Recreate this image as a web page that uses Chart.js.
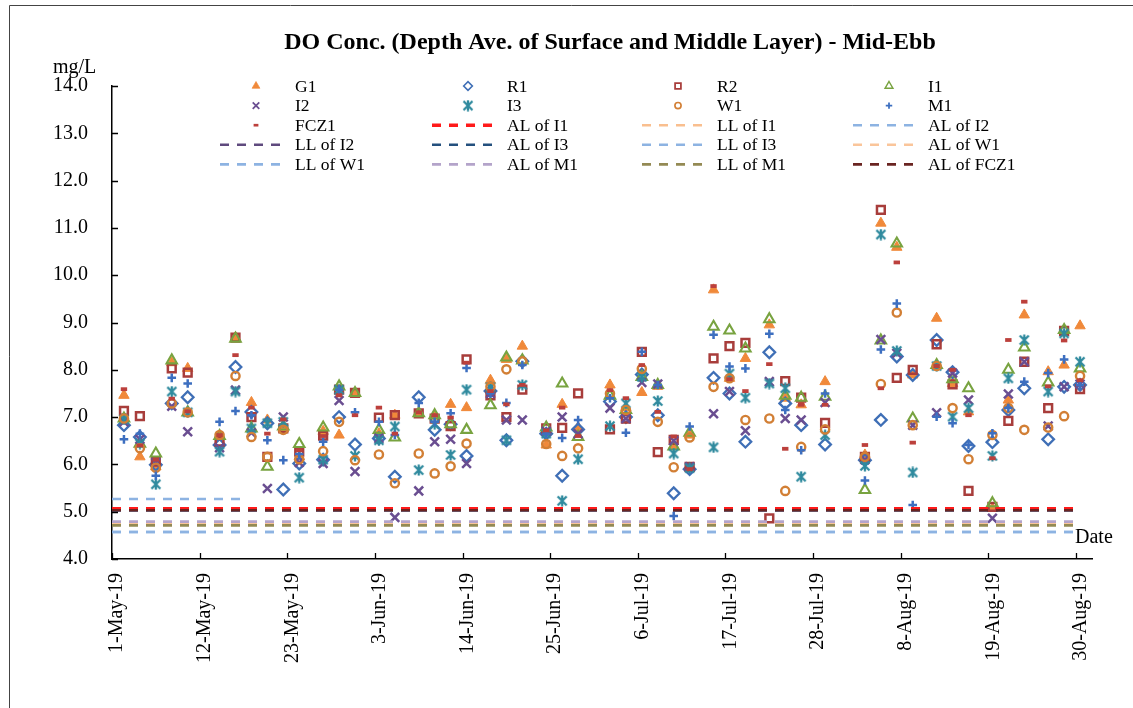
<!DOCTYPE html>
<html>
<head>
<meta charset="utf-8">
<title>DO Conc. - Mid-Ebb</title>
<script src="https://cdn.jsdelivr.net/npm/chart.js@4.4.1/dist/chart.umd.min.js"></script>
<style>
  html, body { margin: 0; padding: 0; background: #fff; }
  #wrap { width: 1133px; height: 708px; }
</style>
</head>
<body>
<div id="wrap"><canvas id="doChart" width="1133" height="708"></canvas></div>
<script>
// sampling dates (ebb tide, around midday)
var sampleDates = ['2019-05-02','2019-05-04','2019-05-06','2019-05-08','2019-05-10','2019-05-14','2019-05-16','2019-05-18','2019-05-20','2019-05-22','2019-05-24','2019-05-27','2019-05-29','2019-05-31',
  '2019-06-03','2019-06-05','2019-06-08','2019-06-10','2019-06-12','2019-06-14','2019-06-17','2019-06-19','2019-06-21','2019-06-24','2019-06-26','2019-06-28',
  '2019-07-02','2019-07-04','2019-07-06','2019-07-08','2019-07-10','2019-07-12','2019-07-15','2019-07-17','2019-07-19','2019-07-22','2019-07-24','2019-07-26','2019-07-29',
  '2019-08-03','2019-08-05','2019-08-07','2019-08-09','2019-08-12','2019-08-14','2019-08-16','2019-08-19','2019-08-21','2019-08-23','2019-08-26','2019-08-28','2019-08-30'];

// DO (mg/L) per station
var g1 = [7.46,6.16,5.95,8.15,8.03,6.60,8.68,7.31,6.94,6.76,6.16,6.70,6.62,7.50, 6.65,7.04,7.08,7.02,7.27,7.20,7.78,8.22,8.50,6.41,7.27,6.78, 7.68,7.20,7.52,7.65,6.40,6.62,9.69,7.82,8.24,8.95,7.40,7.26,7.75, 6.20,11.10,10.59,7.89,9.09,7.71,7.11,5.07,7.36,9.16,7.96,8.10,8.93];
var r1 = [6.83,6.58,5.99,7.29,7.42,6.41,8.06,7.11,6.87,5.47,6.02,6.10,7.00,6.42, 6.55,5.74,7.42,6.73,6.85,6.18,7.55,6.51,8.18,6.65,5.76,6.74, 7.33,7.00,7.90,7.04,5.39,5.90,7.83,7.50,6.48,8.37,7.29,6.83,6.42, 6.09,6.94,8.28,7.89,8.63,7.95,6.39,6.47,7.15,7.61,6.53,7.64,7.68];
var r2 = [7.13,7.02,6.06,8.03,7.94,6.48,8.68,7.00,6.16,6.76,6.27,6.61,7.58,7.51, 6.99,7.04,7.08,6.97,6.81,8.22,7.46,7.00,7.58,6.76,6.77,7.50, 6.74,6.97,8.38,6.26,6.52,5.95,8.24,8.50,8.57,4.86,7.76,7.41,6.88, 6.16,11.38,7.83,8.00,8.54,7.69,5.44,5.10,6.92,8.17,7.19,8.82,7.59];
var i1 = [6.97,6.44,6.23,8.20,7.10,6.60,8.66,6.76,5.95,6.80,6.43,6.78,7.65,7.51, 6.73,6.57,7.08,7.04,6.85,6.73,7.25,8.26,8.20,6.78,7.71,6.58, 7.45,7.15,7.85,7.68,6.38,6.67,8.91,8.83,8.45,9.07,7.45,7.41,7.43, 5.46,8.62,10.67,6.97,8.10,7.80,7.61,5.18,8.00,8.47,7.73,8.84,8.03];
var i2 = [6.90,6.53,6.04,7.23,6.69,6.35,7.57,6.67,5.49,7.00,6.04,6.02,7.35,5.85, 6.55,4.88,5.44,6.48,6.53,6.02,7.50,6.94,6.94,6.70,7.00,6.65, 7.19,6.97,7.73,7.70,6.50,5.95,7.07,7.54,6.71,7.75,6.97,6.94,7.31, 6.10,8.64,8.35,6.83,7.09,7.93,7.36,4.86,7.49,8.17,6.81,7.64,7.70];
var i3 = [6.95,6.44,5.58,7.54,7.10,6.27,7.54,6.76,6.87,6.90,5.72,6.10,7.58,6.18, 6.51,6.80,5.88,6.85,6.20,7.58,7.63,6.51,7.68,6.65,5.23,6.11, 6.81,7.29,7.85,7.34,6.23,5.92,6.36,7.92,7.41,7.71,7.61,5.74,6.62, 5.97,10.86,8.40,5.83,8.08,7.01,7.19,6.18,7.82,8.63,7.54,8.77,8.17];
var w1 = [6.97,6.34,5.93,7.29,7.10,6.62,7.87,6.58,6.16,6.73,6.11,6.28,6.90,6.09, 6.21,5.60,6.23,5.81,5.96,6.44,7.64,8.01,8.18,6.43,6.18,6.34, 7.50,7.15,8.02,6.90,5.94,6.57,7.64,7.82,6.94,6.97,5.44,6.37,6.74, 6.16,7.70,9.21,6.83,8.08,7.19,6.11,6.62,7.19,6.73,6.78,7.02,7.87];
var m1 = [6.53,6.65,5.76,7.83,7.71,6.90,7.13,7.04,6.51,6.09,6.22,6.48,7.58,7.10, 6.90,6.62,7.30,6.90,7.08,8.04,7.50,7.30,8.10,6.65,6.56,6.94, 7.40,6.67,8.38,7.68,4.91,6.80,8.74,8.07,8.03,8.76,7.15,6.30,7.50, 5.66,8.43,9.40,5.14,7.01,6.87,6.41,6.66,7.19,7.75,7.93,8.22,7.68];
var fcz1 = [7.59,6.40,6.10,7.39,7.12,6.62,8.31,7.20,6.65,6.95,6.30,6.60,7.46,7.04, 7.20,6.65,7.10,7.04,6.99,8.15,7.55,7.27,7.68,6.72,7.20,6.60, 7.57,7.40,8.10,7.11,6.59,5.90,9.77,7.80,7.55,8.12,6.33,7.26,7.26, 6.41,7.61,10.27,6.46,8.08,8.00,7.04,6.13,8.63,9.44,7.65,8.62,7.78];

// action / limit levels (mg/L), given at the start, change and end of the period
var limitDates = ['2019-05-01 00:00', '2019-05-18 00:00', '2019-08-30 12:00'];
var alI1 = [5.06, 5.06, 5.06];
var llI1 = [4.74, 4.74, 4.74];
var alI2 = [5.27, 5.27, null];
var llI2 = [5.03, 5.03, 5.03];
var alI3 = [5.03, 5.03, 5.03];
var llI3 = [4.57, 4.57, 4.57];
var alW1 = [4.77, 4.77, 4.77];
var llW1 = [4.57, 4.57, 4.57];
var alM1 = [4.79, 4.79, 4.79];
var llM1 = [4.71, 4.71, 4.71];
var alFCZ1 = [5.03, 5.03, 5.03];

var tickLabels = ['1-May-19','12-May-19','23-May-19','3-Jun-19','14-Jun-19','25-Jun-19','6-Jul-19','17-Jul-19','28-Jul-19','8-Aug-19','19-Aug-19','30-Aug-19'];
var tickStep = 11;   // days between date labels
var axisEndDay = 123;

var serif = '"Liberation Serif", "Times New Roman", serif';
var day0 = Date.UTC(2019, 4, 1);

function toDay(s) {
  var p = s.split(/[- :]/);
  var h = p.length > 3 ? +p[3] : 12;
  return (Date.UTC(+p[0], +p[1] - 1, +p[2], h) - day0) / 86400000;
}

function pts(xs, ys) {
  return ys.map(function(v, k) { return { x: toDay(xs[k]), y: v }; });
}

// Excel style "star" marker: X with a vertical bar
function starMarker(color) {
  var c = document.createElement('canvas');
  c.width = 12; c.height = 12;
  var g = c.getContext('2d');
  g.strokeStyle = color;
  g.lineWidth = 2.3;
  g.beginPath();
  g.moveTo(1.5, 1.5); g.lineTo(10.5, 10.5);
  g.moveTo(10.5, 1.5); g.lineTo(1.5, 10.5);
  g.moveTo(6, 0.5); g.lineTo(6, 11.5);
  g.stroke();
  return c;
}

function marker(label, ys, style, radius, width, color, filled) {
  return {
    label: label,
    data: pts(sampleDates, ys),
    showLine: false,
    pointStyle: style,
    pointRadius: radius,
    pointHoverRadius: radius,
    pointBorderWidth: width,
    pointBorderColor: color,
    pointBackgroundColor: filled ? color : 'rgba(0,0,0,0)',
    borderColor: color,
    backgroundColor: filled ? color : 'rgba(0,0,0,0)'
  };
}

function limit(label, ys, color, width) {
  return {
    label: label,
    data: pts(limitDates, ys),
    showLine: true,
    spanGaps: false,
    pointRadius: 0,
    borderColor: color,
    borderWidth: width,
    borderDash: [9, 8],
    backgroundColor: color
  };
}

var datasets = [
  marker('G1', g1, 'triangle', 6, 1, '#F0893A', true),
  marker('R1', r1, 'rectRot', 5.8, 2.3, '#3F6FB6', false),
  marker('R2', r2, 'rect', 5.5, 2.5, '#A83D3B', false),
  marker('I1', i1, 'triangle', 6, 2.1, '#78A340', false),
  marker('I2', i2, 'crossRot', 6.2, 2.5, '#6A4E91', false),
  marker('I3', i3, starMarker('#2F8A9E'), 6, 2, '#2F8A9E', false),
  marker('W1', w1, 'circle', 4.1, 2.4, '#D27F35', false),
  marker('M1', m1, 'cross', 4.3, 2.5, '#3D6FC0', false),
  marker('FCZ1', fcz1, 'line', 3.2, 3.8, '#BC403C', false),
  limit('AL of I1', alI1, '#FF1A1A', 3.5),
  limit('LL of I1', llI1, '#F9BF8F', 2.6),
  limit('AL of I2', alI2, '#8DB3E2', 2.6),
  limit('LL of I2', llI2, '#5F4A7E', 2.6),
  limit('AL of I3', alI3, '#24507E', 2.6),
  limit('LL of I3', llI3, '#8DB3E2', 2.6),
  limit('AL of W1', alW1, '#FAC59A', 2.6),
  limit('LL of W1', llW1, '#8DB3E2', 2.6),
  limit('AL of M1', alM1, '#B4A4CA', 2.6),
  limit('LL of M1', llM1, '#948A54', 2.6),
  limit('AL of FCZ1', alFCZ1, '#6A2421', 2.6)
];
// later series drawn on top, like the spreadsheet did
datasets.forEach(function(d, k) { d.order = -k; });

var legendCols = [220, 432, 642, 853];
var legendTop = 86, legendRow = 19.6;

var decorPlugin = {
  id: 'decor',
  beforeDraw: function(chart) {
    var c = chart.ctx;
    c.save();
    c.fillStyle = '#fff';
    c.fillRect(0, 0, chart.width, chart.height);
    c.strokeStyle = '#444';
    c.lineWidth = 1;
    c.beginPath();
    c.moveTo(9.5, 708); c.lineTo(9.5, 5.5); c.lineTo(1133, 5.5);
    c.stroke();
    c.restore();
  },
  afterDraw: function(chart) {
    var c = chart.ctx, a = chart.chartArea;
    var xs = chart.scales.x, ys = chart.scales.y;
    c.save();
    // inward tick marks
    c.strokeStyle = '#000';
    c.lineWidth = 1.3;
    c.beginPath();
    xs.ticks.forEach(function(t) {
      var px = Math.round(xs.getPixelForValue(t.value)) + 0.5;
      c.moveTo(px, a.bottom); c.lineTo(px, a.bottom - 6);
    });
    ys.ticks.forEach(function(t) {
      var py = Math.round(ys.getPixelForValue(t.value)) + 0.5;
      c.moveTo(a.left, py); c.lineTo(a.left + 6, py);
    });
    c.stroke();

    // title and axis captions
    c.fillStyle = '#000';
    c.textBaseline = 'middle';
    c.textAlign = 'center';
    c.font = 'bold 24px ' + serif;
    c.fillText('DO Conc. (Depth Ave. of Surface and Middle Layer) - Mid-Ebb', 610, 43);
    c.textAlign = 'left';
    c.font = '20px ' + serif;
    c.fillText('mg/L', 53, 68);
    c.fillText('Date', 1075, 538);

    // legend, 4 columns
    c.font = '17.5px ' + serif;
    chart.data.datasets.forEach(function(d, k) {
      var x0 = legendCols[k % 4];
      var y = legendTop + Math.floor(k / 4) * legendRow;
      if (d.showLine) {
        c.save();
        c.strokeStyle = d.borderColor;
        c.lineWidth = d.borderWidth;
        c.setLineDash(d.borderDash);
        c.beginPath();
        c.moveTo(x0, y); c.lineTo(x0 + 63, y);
        c.stroke();
        c.restore();
      } else {
        c.save();
        c.fillStyle = d.pointBackgroundColor;
        c.strokeStyle = d.pointBorderColor;
        c.lineWidth = d.pointBorderWidth * 0.7;
        Chart.helpers.drawPoint(c, {
          pointStyle: d.pointStyle,
          radius: d.pointRadius * 0.75,
          borderWidth: d.pointBorderWidth * 0.7,
          rotation: 0
        }, x0 + 36, y);
        c.restore();
      }
      c.fillStyle = '#000';
      c.fillText(d.label, x0 + 75, y + 1);
    });
    c.restore();
  }
};

var doChart = new Chart(document.getElementById('doChart').getContext('2d'), {
  type: 'scatter',
  data: { datasets: datasets },
  options: {
    responsive: false,
    animation: false,
    devicePixelRatio: 1,
    events: [],
    layout: { padding: { left: 0, right: 41, top: 86, bottom: 0 } },
    plugins: {
      legend: { display: false },
      title: { display: false },
      tooltip: { enabled: false }
    },
    scales: {
      x: {
        type: 'linear',
        min: 0,
        max: axisEndDay,
        afterBuildTicks: function(axis) {
          axis.ticks = tickLabels.map(function(l, k) { return { value: k * tickStep }; });
        },
        afterFit: function(axis) { axis.height = 149; },
        grid: { display: false, drawTicks: false },
        border: { display: true, color: '#000', width: 1.5 },
        ticks: {
          autoSkip: false,
          minRotation: 90,
          maxRotation: 90,
          padding: 14,
          labelOffset: 5,
          color: '#000',
          font: { family: serif, size: 20, lineHeight: 1 },
          callback: function(v) { return tickLabels[Math.round(v / tickStep)]; }
        }
      },
      y: {
        min: 4,
        max: 14,
        afterFit: function(axis) { axis.width = 112; },
        grid: { display: false, drawTicks: false },
        border: { display: true, color: '#000', width: 1.5 },
        ticks: {
          stepSize: 1,
          padding: 24,
          color: '#000',
          font: { family: serif, size: 20 },
          callback: function(v) { return v.toFixed(1); }
        }
      }
    }
  },
  plugins: [decorPlugin]
});
</script>
</body>
</html>
